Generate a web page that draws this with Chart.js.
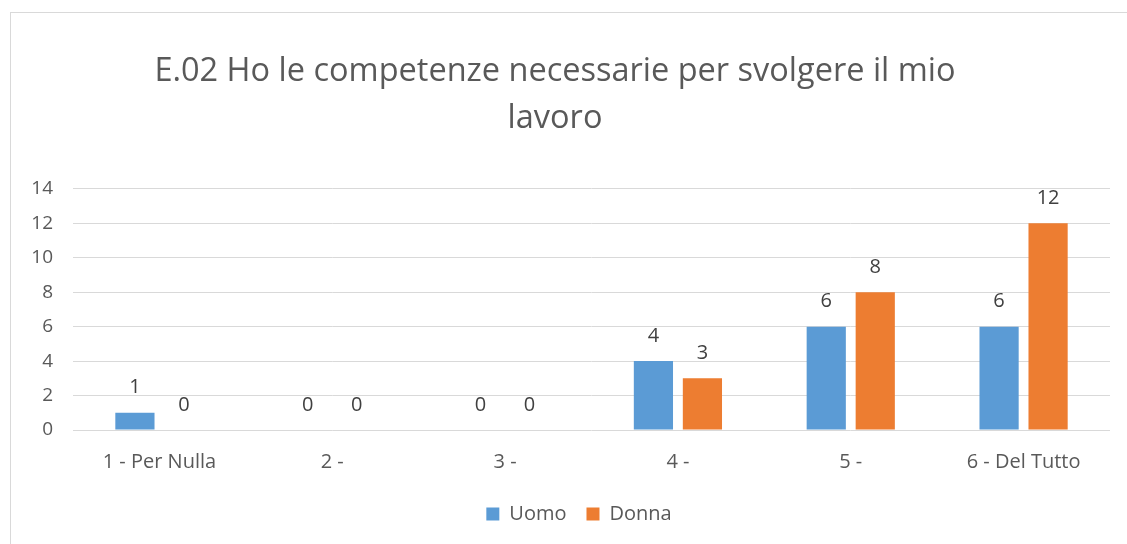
<!DOCTYPE html>
<html>
<head>
<meta charset="utf-8">
<script src="https://cdn.jsdelivr.net/npm/chart.js@4"></script>
<style>
  html, body { margin: 0; padding: 0; background: #fff; }
  #frame { position: absolute; left: 10px; top: 12px; width: 1130px; height: 540px;
           border-left: 1px solid #d9d9d9; border-top: 1px solid #d9d9d9; }
  #wrap { position: absolute; left: 0; top: 0; width: 1127px; height: 544px; }
</style>
</head>
<body>
<div id="frame"></div>
<div id="wrap"><canvas id="c" width="1127" height="544"></canvas></div>
<script>
const titleLines = ["E.02 Ho le competenze necessarie per svolgere il mio", "lavoro"];
const categories = ["1 - Per Nulla", "2 -", "3 -", "4 -", "5 -", "6 - Del Tutto"];
const seriesNames = ["Uomo", "Donna"];
const uomo = [1, 0, 0, 4, 6, 6];
const donna = [0, 0, 0, 3, 8, 12];
const yTicks = [0, 2, 4, 6, 8, 10, 12, 14];

const FONT = "'Open Sans', sans-serif";

const valueLabels = {
  id: 'valueLabels',
  afterDatasetsDraw(chart) {
    const ctx = chart.ctx;
    ctx.save();
    ctx.font = "20px " + FONT;
    ctx.fillStyle = '#404040';
    ctx.textAlign = 'center';
    ctx.textBaseline = 'middle';
    chart.data.datasets.forEach((ds, i) => {
      const meta = chart.getDatasetMeta(i);
      meta.data.forEach((el, j) => {
        ctx.fillText(String(ds.data[j]), el.x, el.y - 25);
      });
    });
    ctx.restore();
  }
};

const legendShift = {
  id: 'legendShift',
  afterLayout(chart) {
    if (chart.legend) {
      chart.legend.left += 24;
      chart.legend.right += 24;
      chart.legend.top -= 2;
      chart.legend.bottom -= 2;
    }
  }
};

new Chart(document.getElementById('c'), {
  type: 'bar',
  data: {
    labels: categories,
    datasets: [
      { label: seriesNames[0], data: uomo, backgroundColor: '#5B9BD5' },
      { label: seriesNames[1], data: donna, backgroundColor: '#ED7D31' }
    ]
  },
  options: {
    responsive: false,
    animation: false,
    devicePixelRatio: 1,
    categoryPercentage: 0.567,
    barPercentage: 0.8,
    layout: { padding: { left: 0, right: 17, top: 0, bottom: 8 } },
    plugins: {
      title: {
        display: true,
        text: titleLines,
        color: '#595959',
        font: { family: FONT, size: 32.5, weight: 'normal', lineHeight: 1.46 },
        padding: { top: 48, bottom: 46 }
      },
      legend: {
        position: 'bottom',
        labels: {
          color: '#595959',
          font: { family: FONT, size: 20 },
          boxWidth: 13, boxHeight: 13, padding: 20
        }
      },
      tooltip: { enabled: false }
    },
    scales: {
      x: {
        grid: { display: false },
        border: { display: false },
        ticks: { color: '#595959', font: { family: FONT, size: 20 }, padding: 12, maxRotation: 0 }
      },
      y: {
        min: 0, max: 14,
        afterFit(s) { s.width = 73; },
        afterBuildTicks(s) { s.ticks = yTicks.map(v => ({ value: v })); },
        grid: { color: '#d9d9d9', drawTicks: false, lineWidth: 1 },
        border: { display: false },
        ticks: { color: '#595959', font: { family: FONT, size: 19 }, padding: 20 }
      }
    }
  },
  plugins: [valueLabels, legendShift]
});
</script>
</body>
</html>
